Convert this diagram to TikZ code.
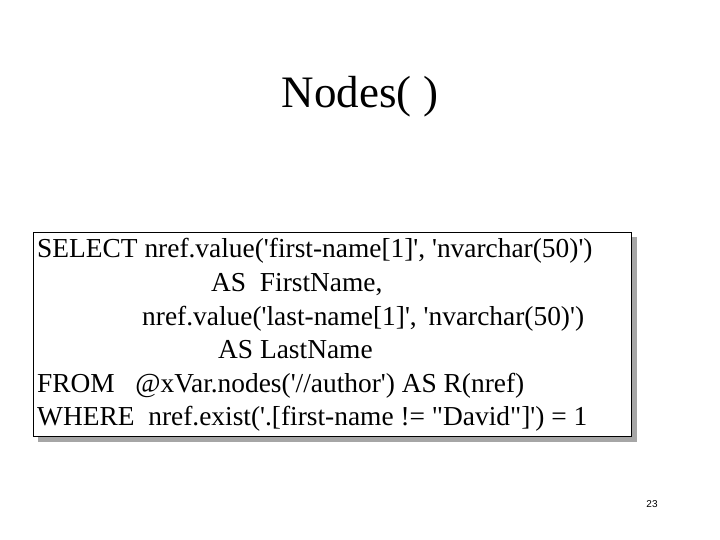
\documentclass[tikz,border=0pt]{standalone}
\usepackage{fontspec}
\setmainfont{Liberation Serif}[Ligatures=TeXOff]
\newfontfamily\numfont{Liberation Sans}
\begin{document}
\begin{tikzpicture}[x=1pt,y=-1pt,
  code/.style={anchor=base west,inner sep=0pt,font=\fontsize{27.4}{32}\selectfont}]
\useasboundingbox[fill=white] (0,0) rectangle (720,540);
\fill[gray!70] (38,237) rectangle (637,442);
\draw[fill=white,line width=0.8pt] (33,232) rectangle (631,436);
\node[font=\fontsize{45}{50}\selectfont] (title) at (360,97) {Nodes( )};
\node[code] (l1) at (37,258) {SELECT nref.value('first-name[1]', 'nvarchar(50)')};
\node[code] (l2) at (211,291.5) {AS\ \ FirstName,};
\node[code] (l3) at (142,325) {nref.value('last-name[1]', 'nvarchar(50)')};
\node[code] (l4) at (218,358.5) {AS LastName};
\node[code] (l5) at (37,392) {FROM\ \ \ @xVar.nodes('//author') AS R(nref)};
\node[code] (l6) at (37,425.5) {WHERE\ \ nref.exist('.[first-name != "David"]') = 1};
\node[font=\numfont\fontsize{10}{12}\selectfont] (pg) at (652,504) {23};
\end{tikzpicture}
\end{document}
